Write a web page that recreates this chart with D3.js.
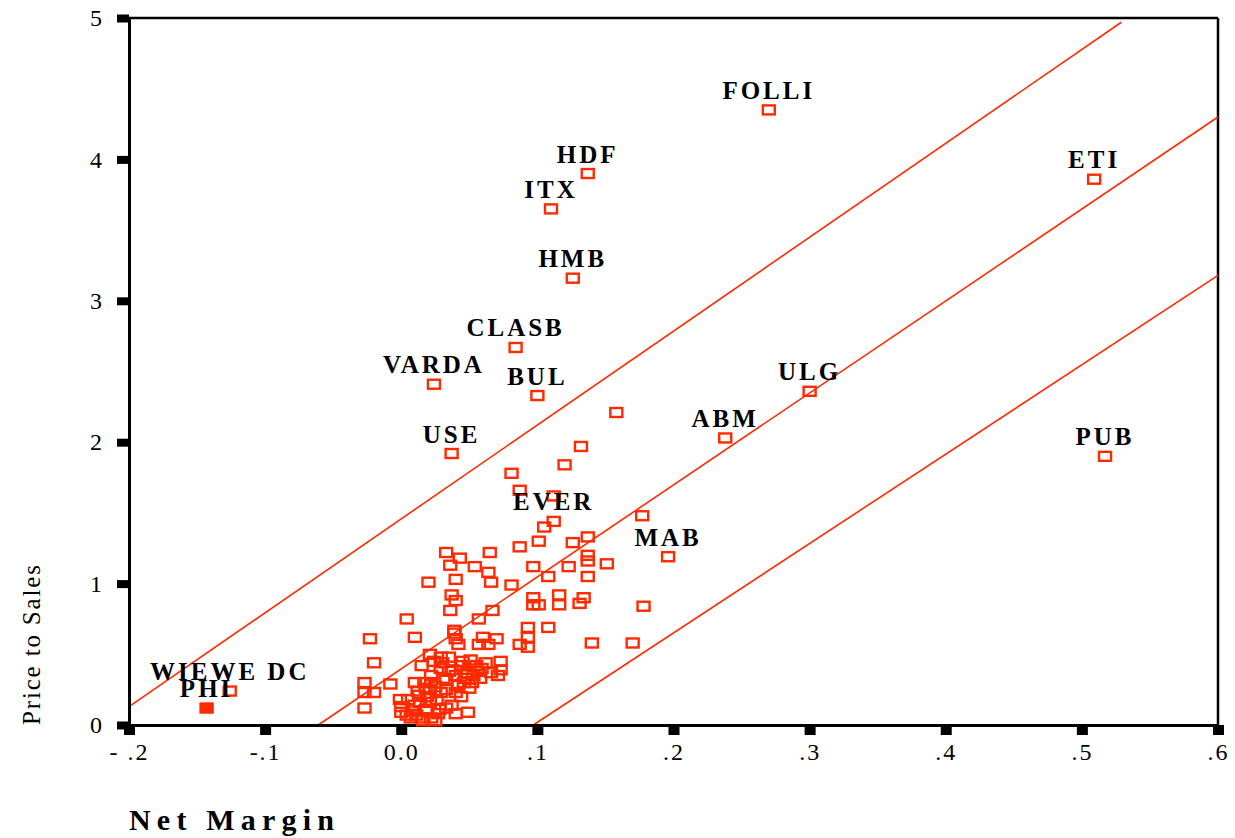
<!DOCTYPE html>
<html>
<head>
<meta charset="utf-8">
<script src="https://cdn.jsdelivr.net/npm/d3@7"></script>
<style>
  body { margin: 0; background: #fff; }
  .axis text { font-family: "Liberation Serif", serif; font-size: 24px; fill: #000; }
  .axis .domain { stroke: #000; stroke-width: 3; }
  .label { font-family: "Liberation Serif", serif; font-weight: bold; font-size: 25px; letter-spacing: 3px; fill: #000; }
  .title { font-family: "Liberation Serif", serif; fill: #000; }
</style>
</head>
<body>
<div id="chart"></div>
<script>
// labelled companies
var labelNames = ["FOLLI", "HDF", "ITX", "HMB", "CLASB", "VARDA", "BUL", "USE", "ETI", "ULG", "ABM", "PUB", "EVER", "MAB", "WIEWE DC", "PHI"];
var labelMargin = [0.270, 0.137, 0.110, 0.126, 0.084, 0.024, 0.100, 0.037, 0.509, 0.300, 0.238, 0.517, 0.112, 0.196, -0.126, -0.143];
var labelPS = [4.35, 3.90, 3.65, 3.16, 2.67, 2.41, 2.33, 1.92, 3.86, 2.36, 2.03, 1.90, 1.44, 1.19, 0.24, 0.12];

// unlabelled companies
var netMargin = [0.158, 0.132, 0.120, 0.081, 0.087, 0.112, 0.177, 0.105, 0.101, 0.087,
  0.126, 0.137, 0.137, 0.137, 0.097, 0.108, 0.123, 0.151, 0.137, 0.081,
  0.097, 0.097, 0.101, 0.116, 0.116, 0.134, 0.131, 0.178, 0.093, 0.108,
  0.093, 0.087, 0.093, 0.140, 0.170, 0.033, 0.043, 0.065, 0.036, 0.054,
  0.064, 0.020, 0.040, 0.066, 0.037, 0.040, 0.036, 0.067, 0.057, 0.004,
  0.039, 0.039, 0.040, -0.023, 0.010, 0.060, 0.070, 0.057, 0.064, 0.042,
  -0.020, 0.021, 0.029, 0.035, 0.073, 0.073, 0.071, 0.066, -0.027, -0.027,
  -0.020, -0.027, -0.008, 0.000, 0.000, -0.001, 0.005, 0.010, 0.022, 0.010,
  0.017, 0.022, 0.049, 0.037, 0.046, 0.050, 0.011, 0.015, 0.007, 0.018,
  0.013, 0.021, 0.026, 0.029, 0.033, 0.037, 0.044, 0.051, 0.055, 0.048,
  0.040, 0.029, 0.024, 0.015, 0.028, 0.021, 0.033, 0.040, 0.044, 0.053,
  0.059, 0.004, 0.022, 0.008, 0.014, 0.019, 0.025, 0.031, 0.027, 0.033,
  0.042, 0.047, 0.052, 0.056, 0.062, 0.035, 0.030, 0.045, 0.018, 0.012,
  0.040, 0.016, 0.025, 0.050, 0.058];
var priceToSales = [2.21, 1.97, 1.84, 1.78, 1.66, 1.62, 1.48, 1.40, 1.30, 1.26,
  1.29, 1.33, 1.20, 1.16, 1.12, 1.05, 1.12, 1.14, 1.05, 0.99,
  0.90, 0.85, 0.85, 0.92, 0.85, 0.90, 0.86, 0.84, 0.69, 0.69,
  0.62, 0.57, 0.55, 0.58, 0.58, 1.22, 1.18, 1.22, 1.13, 1.12,
  1.08, 1.01, 1.03, 1.01, 0.92, 0.88, 0.81, 0.81, 0.75, 0.75,
  0.67, 0.65, 0.61, 0.61, 0.62, 0.62, 0.61, 0.57, 0.57, 0.57,
  0.44, 0.50, 0.48, 0.48, 0.45, 0.39, 0.35, 0.37, 0.30, 0.23,
  0.23, 0.12, 0.29, 0.13, 0.09, 0.18, 0.18, 0.14, 0.35, 0.30,
  0.30, 0.30, 0.09, 0.14, 0.30, 0.26, 0.07, 0.05, 0.05, 0.11,
  0.21, 0.25, 0.18, 0.23, 0.32, 0.39, 0.42, 0.46, 0.42, 0.37,
  0.35, 0.40, 0.45, 0.42, 0.11, 0.16, 0.25, 0.23, 0.20, 0.35,
  0.40, 0.07, 0.05, 0.10, 0.16, 0.20, 0.27, 0.33, 0.08, 0.12,
  0.28, 0.33, 0.30, 0.38, 0.44, 0.38, 0.44, 0.45, 0.26, 0.24,
  0.08, 0.03, 0.03, 0.42, 0.33];

// fitted line and bands, as [start, end] in data units
var upperLineX = [-0.2, 0.529], upperLineY = [0.13, 4.97];
var fitLineX = [-0.061, 0.6], fitLineY = [0, 4.30];
var lowerLineX = [0.097, 0.6], lowerLineY = [0, 3.18];

var xTicks = [-0.2, -0.1, 0, 0.1, 0.2, 0.3, 0.4, 0.5, 0.6];
var xTickLabels = ["- .2", "-.1", "0.0", ".1", ".2", ".3", ".4", ".5", ".6"];
var yTicks = [0, 1, 2, 3, 4, 5];

var margin = {top: 18, right: 17, bottom: 113, left: 129},
  width = 1235 - margin.left - margin.right,
  height = 838 - margin.top - margin.bottom;
var red = "#ff2a00";

var svg = d3.select("#chart").append("svg")
  .attr("width", 1235)
  .attr("height", 838)
  .append("g")
  .attr("transform", "translate(" + margin.left + "," + margin.top + ")");

var x = d3.scaleLinear().domain([-0.2, 0.6]).range([0, width]);
var y = d3.scaleLinear().domain([0, 5]).range([height, 0]);

// frame top and right
svg.append("line").attr("x1", 0).attr("x2", width).attr("y1", 0).attr("y2", 0)
  .attr("stroke", "#000").attr("stroke-width", 2.5);
svg.append("line").attr("x1", width).attr("x2", width).attr("y1", 0).attr("y2", height)
  .attr("stroke", "#000").attr("stroke-width", 2.5);

// lines
var lines = [[upperLineX, upperLineY], [fitLineX, fitLineY], [lowerLineX, lowerLineY]];
svg.selectAll(".fit")
  .data(lines)
  .enter().append("line")
  .attr("class", "fit")
  .attr("x1", function (d) { return x(d[0][0]); })
  .attr("y1", function (d) { return y(d[1][0]); })
  .attr("x2", function (d) { return x(d[0][1]); })
  .attr("y2", function (d) { return y(d[1][1]); })
  .attr("stroke", red)
  .attr("stroke-width", 1.6);

// axes
var xAxis = d3.axisBottom(x).tickValues(xTicks).tickSize(10).tickSizeOuter(0).tickPadding(8)
  .tickFormat(function (d, i) { return xTickLabels[i]; });
var yAxis = d3.axisLeft(y).tickValues(yTicks).tickSize(12).tickSizeOuter(0).tickPadding(15)
  .tickFormat(d3.format("d"));

var gx = svg.append("g")
  .attr("class", "x axis")
  .attr("transform", "translate(0," + height + ")")
  .call(xAxis);
gx.selectAll(".tick line").attr("stroke", "#000").attr("stroke-width", 11);
gx.selectAll(".tick text").style("letter-spacing", "2px");

var gy = svg.append("g")
  .attr("class", "y axis")
  .call(yAxis);
gy.selectAll(".tick line").attr("stroke", "#000").attr("stroke-width", 8);

// points
var pts = [];
for (var i = 0; i < netMargin.length; i++) {
  pts.push({nm: netMargin[i], ps: priceToSales[i]});
}
for (var j = 0; j < labelNames.length; j++) {
  pts.push({nm: labelMargin[j], ps: labelPS[j], name: labelNames[j]});
}

svg.selectAll(".pt")
  .data(pts)
  .enter().append("rect")
  .attr("class", "pt")
  .attr("x", function (d) { return x(d.nm) - 6; })
  .attr("y", function (d) { return y(d.ps) - 4.5; })
  .attr("width", 12)
  .attr("height", 9)
  .attr("fill", function (d) { return d.name == "PHI" ? red : "none"; })
  .attr("stroke", red)
  .attr("stroke-width", 2.4);

svg.selectAll(".label")
  .data(pts.filter(function (d) { return d.name; }))
  .enter().append("text")
  .attr("class", "label")
  .attr("x", function (d) { return x(d.nm); })
  .attr("y", function (d) { return y(d.ps) - 11; })
  .attr("text-anchor", "middle")
  .text(function (d) { return d.name; });

// axis titles
svg.append("text")
  .attr("class", "title")
  .attr("x", 0)
  .attr("y", height + 105)
  .attr("textLength", 205)
  .attr("lengthAdjust", "spacing")
  .style("font-size", "30px")
  .style("font-weight", "bold")
  .text("Net Margin");

svg.append("text")
  .attr("class", "title")
  .attr("transform", "translate(" + (40 - margin.left) + "," + height + ") rotate(-90)")
  .attr("textLength", 160)
  .attr("lengthAdjust", "spacing")
  .style("font-size", "25px")
  .text("Price to Sales");
</script>
</body>
</html>
